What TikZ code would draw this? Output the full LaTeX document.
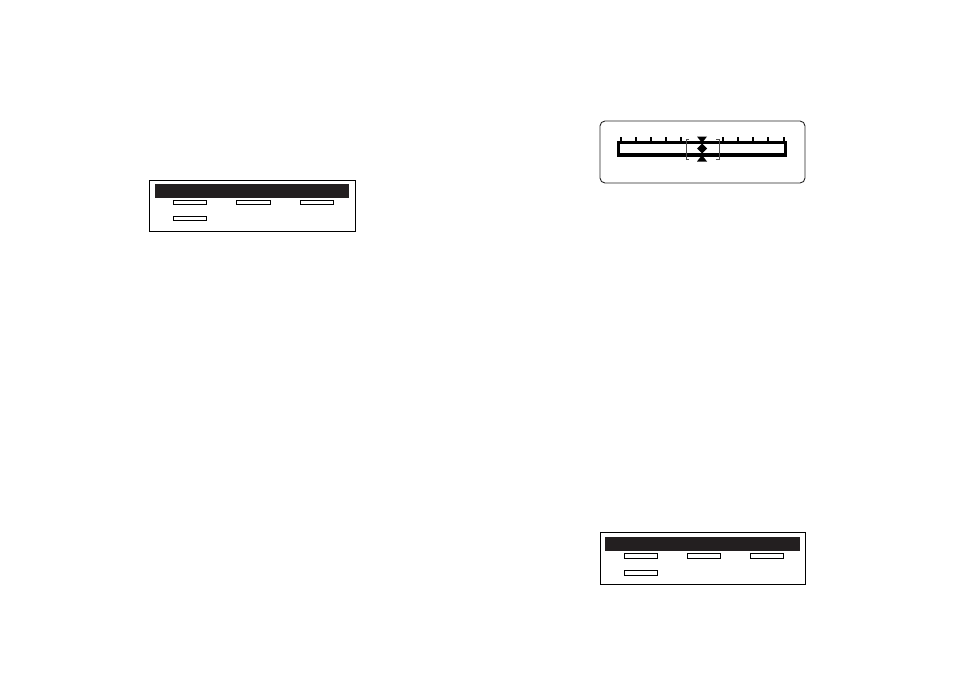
\documentclass[tikz,border=0pt]{standalone}
\definecolor{barcolor}{RGB}{35,31,32}
\begin{document}
\begin{tikzpicture}[x=1pt,y=-1pt,
  frame/.style={draw=black,line width=0.9pt},
  titlebar/.style={fill=barcolor},
  slot/.style={draw=black,line width=0.9pt,fill=white},
  scalebar/.style={draw=black,line width=3.3pt}]
\useasboundingbox (0,0) rectangle (954,673);
% upper left panel
\draw[frame] (149,180) rectangle (355,231);
\fill[titlebar] (155,184) rectangle (349,198);
\draw[slot] (173,200) rectangle (206,204);
\draw[slot] (236,200) rectangle (270,204);
\draw[slot] (300,200) rectangle (333,204);
\draw[slot] (173,216) rectangle (206,220);
% scale panel
\draw[frame,rounded corners=5pt,draw=black!85] (600,121) rectangle (805,183);
\draw[scalebar] (618.7,142.4) rectangle (785.5,155);
\foreach \x in {621,636,651,666,681,723,738,753,768,784}
  \draw[line width=2pt] (\x,137) -- (\x,141);
\draw[black!70,line width=1pt] (689,139) -- (686,139) -- (686,159) -- (689,159);
\draw[black!70,line width=1pt] (716,139) -- (719,139) -- (719,159) -- (716,159);
\fill[black] (697,136.5) -- (707,136.5) -- (702,143) -- cycle;
\fill[black] (697,161.5) -- (707,161.5) -- (702,155) -- cycle;
\fill[black] (702,143.5) -- (707,148.5) -- (702,153.5) -- (697,148.5) -- cycle;
% lower right panel
\draw[frame] (600,532) rectangle (805,584);
\fill[titlebar] (605,537) rectangle (800,551);
\draw[slot] (624,553) rectangle (657,558);
\draw[slot] (687,553) rectangle (720,558);
\draw[slot] (750,553) rectangle (783,558);
\draw[slot] (624,570) rectangle (657,575);
\end{tikzpicture}
\end{document}
